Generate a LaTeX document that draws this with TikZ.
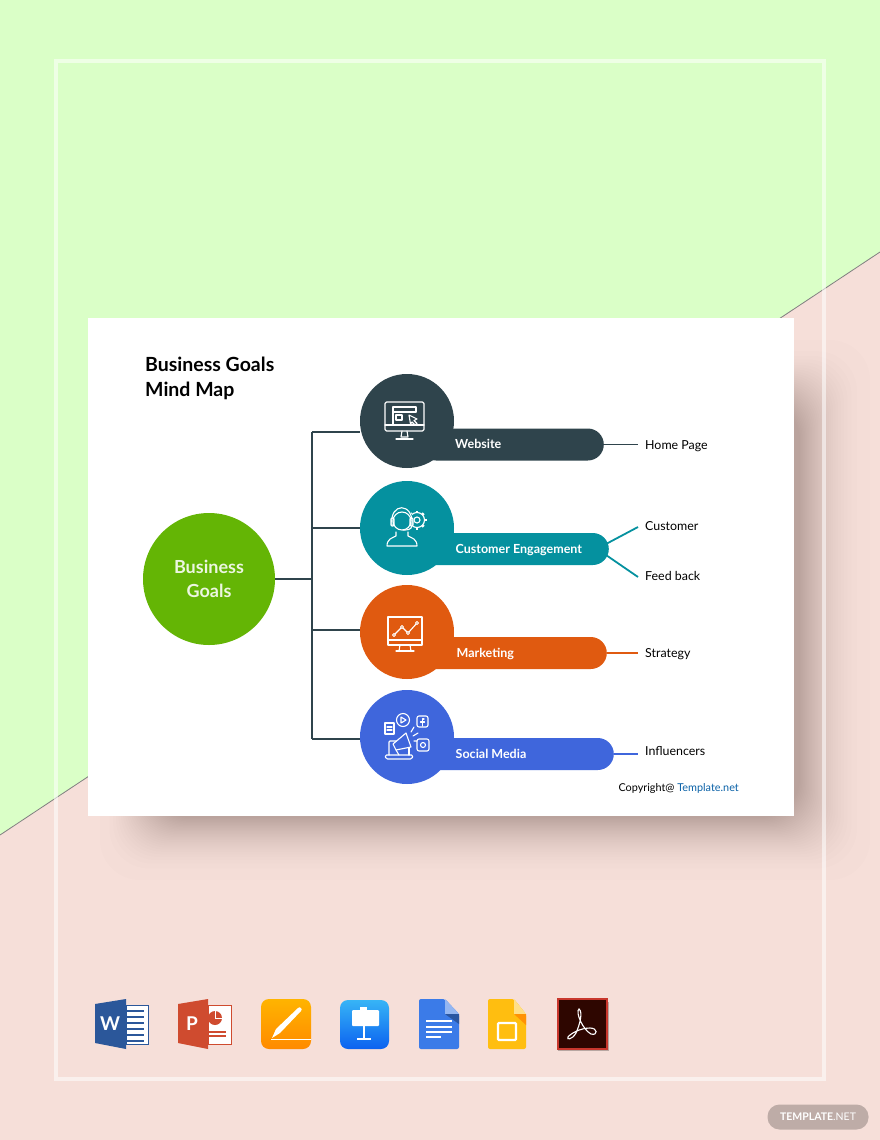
\documentclass[tikz,border=0pt]{standalone}
\usepackage{fontspec}
\setmainfont{Lato}
\usetikzlibrary{calc,positioning,shapes.geometric}
\definecolor{bgGreen}{HTML}{DAFFC7}
\definecolor{bgPink}{HTML}{F6DFD9}
\definecolor{cGoal}{HTML}{64B505}
\definecolor{cWebsite}{HTML}{2F444C}
\definecolor{cCustomer}{HTML}{05919F}
\definecolor{cMarket}{HTML}{E05A10}
\definecolor{cSocial}{HTML}{3F66DC}
\definecolor{cWord}{HTML}{2B579A}
\definecolor{cPpt}{HTML}{CF4B2F}
\definecolor{cDocs}{HTML}{3B7BE8}
\definecolor{cSlides}{HTML}{FFBE10}
\definecolor{cLink}{HTML}{0B62A8}
\definecolor{cPagesA}{HTML}{FFB400}
\definecolor{cPagesB}{HTML}{FF8A00}
\definecolor{cKeyA}{HTML}{37B4F6}
\definecolor{cKeyB}{HTML}{0B62F0}
\definecolor{cAcro}{HTML}{2E0600}
\definecolor{cAcroB}{HTML}{C8372D}

\begin{document}
\begin{tikzpicture}
[x=1pt,y=-1pt,
hub/.style={circle,minimum size=94pt,inner sep=0pt},
pill/.style={rectangle,rounded corners=16pt,minimum height=32pt,inner sep=0pt,anchor=east},
pilltxt/.style={anchor=west,inner sep=0pt,text=white,text height=9pt,text depth=3pt,font=\fontsize{12.5}{15}\selectfont\bfseries},
leaf/.style={anchor=west,inner sep=0pt,text height=9pt,text depth=3pt,font=\fontsize{12.4}{15}\selectfont},
trunk/.style={line width=1.6pt,color=cWebsite},
twig/.style={line width=1.8pt},
ico/.style={draw=white,line width=1.1pt,line join=round,line cap=round}]
\useasboundingbox (0,0) rectangle (880,1140);
%%%%%%%%%%
%% background
\fill[bgGreen] (0,0) rectangle (880,1140);
\fill[bgPink] (0,835) -- (880,252) -- (880,1140) -- (0,1140) -- cycle;
\draw[black!50,line width=.8pt] (0,835) -- (880,252);

%% shadow of the sheet
\foreach \i in {0,...,29}
\fill[black,opacity=.0095,rounded corners=40pt]
({100+50*sqrt(\i/29)},{340+60*sqrt(\i/29)}) rectangle ({870-70*sqrt(\i/29)},{880-62*sqrt(\i/29)});
\fill[white] (88,318) rectangle (794,816);

%% frame
\draw[white,opacity=.55,line width=4pt] (56,61) rectangle (824,1079);

%% title
\node[anchor=west,inner sep=0pt,font=\fontsize{19.5}{25.5}\selectfont\bfseries,align=left] (title) at (145,378.5) {Business Goals\\Mind Map};

%% mind map
\node[circle,fill=cGoal,minimum size=132pt,inner sep=0pt,text=white!88!cGoal,
font=\fontsize{18}{23.5}\selectfont\bfseries,align=center] (goal) at (209,579) {Business\\Goals};

\newcommand{\branch}[7]{
\node[pill,fill=#2,minimum width=#6pt] (p#1) at (#5,#4) {};
\node[hub,fill=#2] (c#1) at (407,#3) {};
\coordinate (l#1) at (#7,#4+1);
}

\branch{Web}{cWebsite}{421}{444.5}{604}{184}{455}
\branch{Cust}{cCustomer}{528}{549}{609}{189}{455.5}
\branch{Mark}{cMarket}{632}{653}{607}{187}{456.5}
\branch{Soc}{cSocial}{737}{754}{614}{194}{455.5}
\node[pilltxt] (tWeb) at (lWeb) {Website};
\node[pilltxt] (tCustomer) at (lCust) {Customer Engagement};
\node[pilltxt] (tMarket) at (lMark) {Marketing};
\node[pilltxt] (tSocial) at (lSoc) {Social Media};

%% trunk
\coordinate (tTop) at (312,432);
\coordinate (tCust) at (312,528);
\coordinate (tGoal) at (312,579);
\coordinate (tMark) at (312,630);
\coordinate (tBot) at (312,739);
\draw[trunk] (tTop) -- (tBot);
\draw[trunk] (goal) -- (tGoal);
\draw[trunk] (tTop) -- (cWeb.west |- tTop);
\draw[trunk] (tCust) -- (cCust.west |- tCust);
\draw[trunk] (tMark) -- (cMark.west |- tMark);
\draw[trunk] (tBot) -- (cSoc.west |- tBot);

%% leaves
\coordinate (tip) at (638,0);
\node[leaf] (nHome) at (645,446) {Home Page};
\node[leaf] (nCustomer) at (645,527) {Customer};
\node[leaf] (nFeed) at (645,577) {Feed back};
\node[leaf] (nStrategy) at (645,654) {Strategy};
\node[leaf] (nInfl) at (645,752) {Influencers};
\draw[twig,cWebsite] (pWeb.east) -- (tip |- pWeb.east);
\draw[twig,cCustomer] (pCust.east)++(-3,-5) -- (tip |- nCustomer.west);
\draw[twig,cCustomer] (pCust.east)++(-3,6) -- (tip |- nFeed.west);
\draw[twig,cMarket] (pMark.east) -- (tip |- pMark.east);
\draw[twig,cSocial] (pSoc.east) -- (tip |- pSoc.east);

\node[anchor=east,inner sep=0pt,font=\fontsize{10.85}{13}\selectfont] (copy) at (739,788) {Copyright@ \textcolor{cLink}{Template.net}};

%% website icon
\draw[ico,rounded corners=1.5pt] (385,402) rectangle (424,431);
\draw[ico] (385,425) -- (424,425);
\draw[ico] (393,424) -- (393,407) -- (416,407) -- (416,412);
\draw[ico] (393,412) -- (416,412);
\draw[ico] (396,415) rectangle (402,420);
\draw[ico,fill=cWebsite] (409,415) -- (417,419) -- (414,420.5) -- (417,423.5) -- (415,425) -- (412,422) -- (410.5,424) -- cycle;
\draw[ico] (402,431) -- (401,437) -- (408,437) -- (407,431);
\draw[ico] (396,439) -- (413,439);

%% customer icon
\foreach \a in {0,45,...,315}
\draw[white,line width=2.6pt] (417,520) ++(\a:7.5pt) -- ++(\a:2pt);
\draw[ico] (417,520) circle (7.5pt);
\draw[ico] (417,520) circle (3pt);
\fill[cCustomer] (402,521) circle (12pt);
\draw[ico] (402,521) circle (9pt);
\draw[ico] (392,525) .. controls (389,502) and (414,502) .. (412,525);
\draw[ico,rounded corners=1pt] (391,518) rectangle (394,526);
\draw[ico,rounded corners=1pt] (410,518) rectangle (413,526);
\draw[ico] (412,526) .. controls (411,530) and (407,530) .. (403,530);
\draw[ico] (396,532) -- (396,536) .. controls (392,538) and (387,539) .. (387,546) -- (417,546) .. controls (417,539) and (412,538) .. (408,536) -- (408,532);

%% marketing icon
\draw[ico] (388,617) rectangle (422,645);
\draw[ico] (388,640) -- (422,640);
\draw[ico] (400,645) -- (399,651) -- (411,651) -- (410,645);
\draw[ico] (396,651) -- (414,651);
\draw[ico] (394,635) -- (402,627) -- (408,633) -- (417,623);
\foreach \p in {(394,635),(402,627),(408,633),(417,623)}
\draw[ico,fill=cMarket,line width=.9pt] \p circle (1.5pt);

%% social icon
\draw[ico] (385,723) rectangle (394,734);
\draw[ico] (387,727) -- (392,727) (387,730) -- (392,730);
\draw[ico] (403,720) circle (6.5pt);
\draw[ico] (401,717) -- (406,720) -- (401,723) -- cycle;
\draw[ico,rounded corners=2pt] (417,716) rectangle (428,727);
\draw[ico] (424,719) -- (422.5,719) -- (422.5,726) (420.5,722) -- (424.5,722);
\draw[ico,rounded corners=2pt] (417,739) rectangle (429,751);
\draw[ico] (423,745) circle (2.5pt);
\draw[ico,rounded corners=1pt] (389,755) -- (389,741) -- (398,741);
\draw[ico] (409,747) -- (409,755);
\draw[ico,rounded corners=1.5pt] (385,755) -- (413,755) -- (412,759) -- (386,759) -- cycle;
\draw[ico,fill=cSocial] (393,744) -- (406,733) -- (411,747) -- (396,750) -- cycle;
\draw[ico] (396,750) -- (399,755);
\draw[ico] (411,732) -- (414,727) (413,736) -- (418,733) (414,741) -- (417,741);

%% bottom icons
\fill[cWord] (95,1004) -- (126,999) -- (126,1049) -- (95,1043) -- cycle;
\draw[cWord,fill=white,line width=.8pt] (126,1005) rectangle (148.5,1044);
\foreach \y in {1011,1017,...,1041}
\draw[cWord,line width=1.6pt] (126,\y) -- (144,\y);
\node[text=white,inner sep=0pt,font=\fontsize{19}{19}\selectfont\bfseries] (wordW) at (110,1024) {W};

\fill[cPpt] (178,1004) -- (208,999) -- (208,1049) -- (178,1043) -- cycle;
\draw[cPpt,fill=white,line width=.8pt] (208,1005) rectangle (231,1044);
\fill[cPpt] (215,1018) circle (7pt);
\draw[white,line width=.9pt] (215,1010) -- (215,1018) -- (223,1018);
\draw[cPpt,line width=1.3pt] (208,1032) -- (226,1032) (208,1036) -- (226,1036);
\node[text=white,inner sep=0pt,font=\fontsize{19}{19}\selectfont\bfseries] (pptP) at (192,1024) {P};

\shade[top color=cPagesA,bottom color=cPagesB,rounded corners=8pt] (261,999) rectangle (311,1049);
\draw[white,line width=1pt] (271,1039) -- (311,1039);
\fill[white] (272,1038) -- (276,1029) -- (298,1008) .. controls (300,1006) and (303,1009) .. (301,1011) -- (280,1033) -- cycle;

\shade[top color=cKeyA,bottom color=cKeyB,rounded corners=8pt] (340,1000) rectangle (389,1049);
\fill[white,rounded corners=1pt] (352,1010) rectangle (379,1026);
\fill[white] (360,1007) rectangle (367,1010);
\draw[white,line width=1.2pt] (364,1026) -- (364,1039);
\draw[white,line width=1.6pt] (357,1039) -- (371,1039);

\fill[cDocs,rounded corners=2pt] (419,999) -- (445,999) -- (459,1014) -- (459,1049) -- (419,1049) -- cycle;
\fill[cDocs!55!white] (445,999) -- (459,1014) -- (445,1014) -- cycle;
\fill[cDocs!70!black] (445,1014) -- (459,1014) -- (459,1024) -- cycle;
\foreach \y/\w in {1021/26,1027/26,1032/26,1037/15}
\draw[white,line width=1.3pt] (426,\y) -- (426+\w,\y);

\fill[cSlides,rounded corners=2pt] (488,999) -- (514,999) -- (526,1014) -- (526,1049) -- (488,1049) -- cycle;
\fill[cSlides!50!white] (514,999) -- (526,1014) -- (514,1014) -- cycle;
\fill[orange!70!cSlides] (514,1014) -- (526,1014) -- (526,1025) -- cycle;
\draw[white,fill=cSlides,line width=2.4pt,rounded corners=1pt] (498,1023) rectangle (516,1040);

\fill[black,opacity=.25] (558,1002) rectangle (609,1051);
\draw[cAcroB,fill=cAcro,line width=2pt] (557.5,998.5) rectangle (607,1049);
\draw[white,line width=1.1pt] (579,1009) .. controls (575,1012) and (583,1030) .. (591,1034) .. controls (598,1036) and (598,1028) .. (590,1028) .. controls (580,1028) and (570,1034) .. (568,1037) .. controls (566,1040) and (572,1040) .. (576,1033) .. controls (580,1024) and (583,1012) .. (579,1009) -- cycle;

%% badge
\node[fill=black!50!bgPink,opacity=.45,rounded corners=12pt,minimum width=101pt,minimum height=25pt,inner sep=0pt] (badge) at (818,1117) {};
\node[text=white,inner sep=0pt,font=\fontsize{10.5}{12}\selectfont] (badgeTxt) at (badge) {\bfseries TEMPLATE\mdseries.NET};
\end{tikzpicture}
\end{document}
